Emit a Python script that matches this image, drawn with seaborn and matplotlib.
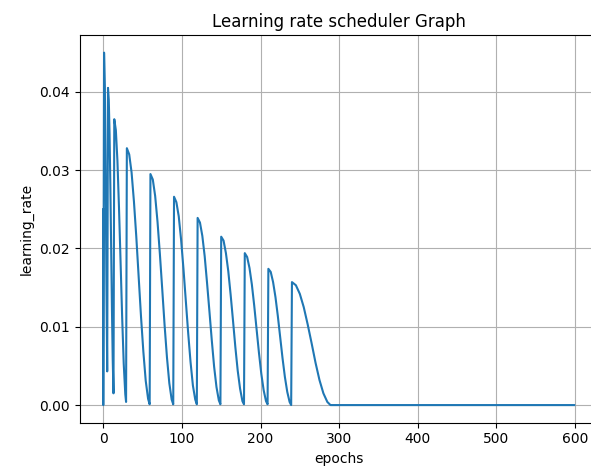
import numpy as np
import pandas as pd
import matplotlib
matplotlib.use("Agg")
import matplotlib.pyplot as plt
import seaborn as sns

# values (epoch, learning rate), one list pair per restart cycle
start_epochs = [0, 0]
start_lr = [0.025, 0.0]

c1_epochs = [1, 2, 3, 4, 5]
c1_lr = [0.045, 0.0407, 0.0295, 0.0155, 0.0043]

c2_epochs = [6, 7, 8, 9, 10, 11, 12, 13]
c2_lr = [0.0405, 0.0390, 0.0346, 0.0280, 0.0203, 0.0125, 0.0059, 0.0015]

c3_epochs = [14, 16, 18, 20, 22, 24, 26, 28, 29]
c3_lr = [0.0365, 0.0351, 0.0312, 0.0252, 0.0183, 0.0113, 0.0053, 0.0014, 0.0004]

c4_epochs = [30, 33, 36, 39, 42, 45, 48, 51, 54, 57, 59]
c4_lr = [0.0328, 0.0320, 0.0297, 0.0260, 0.0215, 0.0164, 0.0113, 0.0068, 0.0031, 0.0008, 0.0001]

c5_epochs = [60, 63, 66, 69, 72, 75, 78, 81, 84, 87, 89]
c5_lr = [0.0295, 0.0288, 0.0267, 0.0234, 0.0193, 0.0148, 0.0102, 0.0061, 0.0028, 0.0007, 0.0001]

c6_epochs = [90, 93, 96, 99, 102, 105, 108, 111, 114, 117, 119]
c6_lr = [0.0266, 0.0259, 0.0241, 0.0211, 0.0174, 0.0133, 0.0092, 0.0055, 0.0025, 0.0007, 0.0001]

c7_epochs = [120, 123, 126, 129, 132, 135, 138, 141, 144, 147, 149]
c7_lr = [0.0239, 0.0233, 0.0216, 0.0190, 0.0156, 0.0120, 0.0083, 0.0049, 0.0023, 0.0006, 0.0001]

c8_epochs = [150, 153, 156, 159, 162, 165, 168, 171, 174, 177, 179]
c8_lr = [0.0215, 0.0210, 0.0194, 0.0171, 0.0141, 0.0108, 0.0074, 0.0044, 0.0021, 0.0005, 0.0001]

c9_epochs = [180, 183, 186, 189, 192, 195, 198, 201, 204, 207, 209]
c9_lr = [0.0194, 0.0189, 0.0175, 0.0154, 0.0127, 0.0097, 0.0067, 0.0040, 0.0019, 0.0005, 0.0001]

c10_epochs = [210, 213, 216, 219, 222, 225, 228, 231, 234, 237, 239]
c10_lr = [0.0174, 0.0170, 0.0157, 0.0138, 0.0114, 0.0087, 0.0060, 0.0036, 0.0017, 0.0004, 0.0000]

c11_epochs = [240, 245, 250, 255, 260, 265, 270, 275, 280, 285, 289]
c11_lr = [0.0157, 0.0153, 0.0142, 0.0125, 0.0103, 0.0079, 0.0054, 0.0032, 0.0015, 0.0004, 0.0000]

tail_epochs = [290, 599]
tail_lr = [0.0, 0.0]

epochs = (start_epochs + c1_epochs + c2_epochs + c3_epochs + c4_epochs + c5_epochs
          + c6_epochs + c7_epochs + c8_epochs + c9_epochs + c10_epochs + c11_epochs + tail_epochs)
lrs = (start_lr + c1_lr + c2_lr + c3_lr + c4_lr + c5_lr
       + c6_lr + c7_lr + c8_lr + c9_lr + c10_lr + c11_lr + tail_lr)

df = pd.DataFrame({"epochs": epochs, "learning_rate": lrs})

fig = plt.figure(figsize=(5.91, 4.68), dpi=100)
# the reference is cropped on the right, so the axes run past the figure edge
ax = fig.add_axes([0.1349, 0.0968, 0.8765, 0.8284])
sns.lineplot(data=df, x="epochs", y="learning_rate", ax=ax,
             estimator=None, sort=False, color="#1f77b4", linewidth=1.5)
ax.set_title("Learning rate scheduler Graph")
ax.set_xlabel("epochs")
ax.set_ylabel("learning_rate")
ax.grid(True)
ax.spines["right"].set_visible(False)
fig.savefig("out.png", dpi=100)
